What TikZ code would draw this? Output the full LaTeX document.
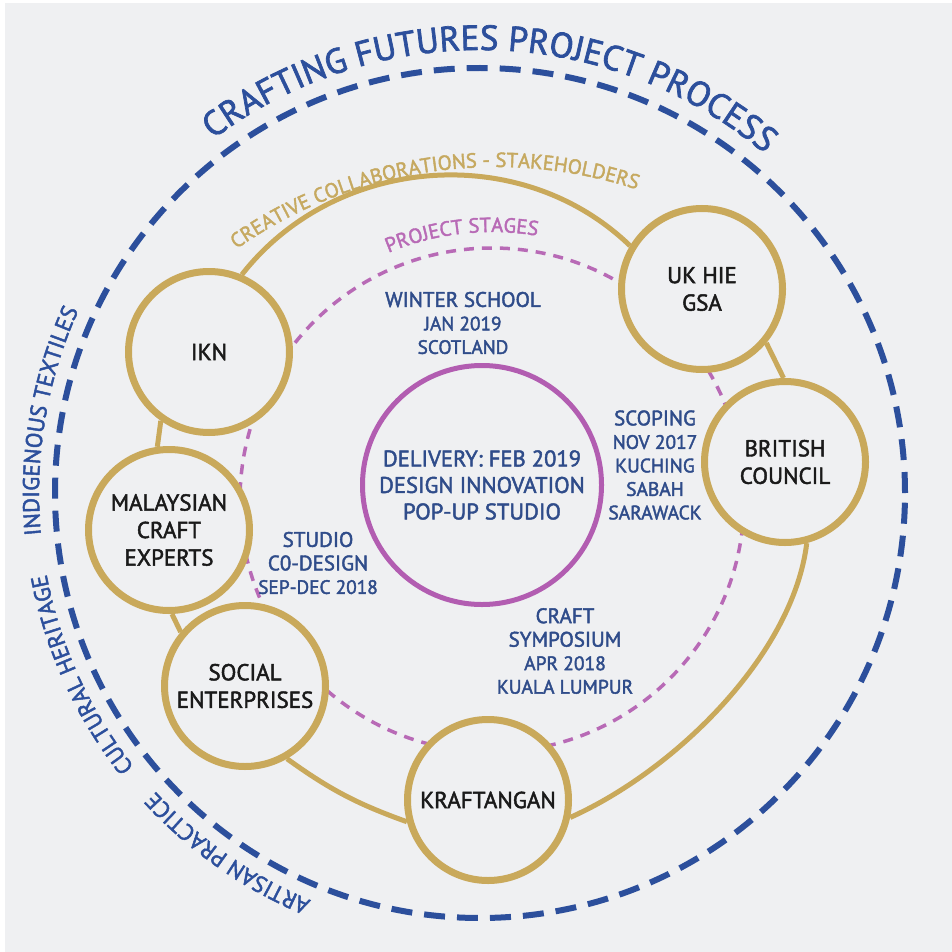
\documentclass[tikz,border=0pt]{standalone}
\usepackage{fontspec}
\setmainfont{PT Sans}[UprightFeatures={FakeBold=2}]
\usetikzlibrary{decorations.text,calc}
\definecolor{bg}{HTML}{EFF0F2}
\definecolor{gold}{HTML}{C9A95B}
\definecolor{navy}{HTML}{2C4F9C}
\definecolor{stagecol}{HTML}{2F4C8A}
\definecolor{purp}{HTML}{B25DB1}
\definecolor{purpd}{HTML}{B86AB6}
\definecolor{ink}{HTML}{1A1A1A}
\definecolor{goldtxt}{HTML}{C6A960}
\newcommand{\fsz}[2]{\fontsize{#1}{#2}\selectfont}
\begin{document}
\begin{tikzpicture}[x=1pt,y=1pt,
  gnode/.style={circle, draw=gold, line width=7pt, fill=bg, minimum size=161pt, inner sep=0pt, align=center, text=ink, font=\fsz{23}{27.5}},
  dnode/.style={circle, draw=purp, line width=5pt, fill=bg, minimum size=239pt, inner sep=0pt, align=center, text=stagecol, font=\fsz{22.6}{26.5}},
  link/.style={draw=gold, line width=5pt},
  stagelbl/.style={align=center, text=stagecol, font=\fsz{21}{23.5}},
  bluering/.style={draw=navy, line width=6pt, dash pattern=on 21pt off 12pt},
  purpring/.style={draw=purpd, line width=3.5pt, dash pattern=on 10pt off 8pt}
]
\fill[white] (0,0) rectangle (952,-952);
\fill[bg] (5,-3) rectangle (952,-952);
\useasboundingbox (0,0) rectangle (952,-952);

\coordinate (C0) at (480,-493);
\coordinate (CP) at (492,-500);
\coordinate (CG) at (496,-618);

% rings
\draw[bluering] (C0) circle[radius=425];
\draw[purpring] (CP) circle[radius=252];

% nodes
\node[gnode] (ikn) at (209,-352) {IKN};
\node[gnode] (uk) at (702,-289) {UK HIE\\GSA};
\node[gnode] (bc) at (785,-462) {BRITISH\\COUNCIL};
\node[gnode] (mal) at (169,-530) {MALAYSIAN\\CRAFT\\EXPERTS};
\node[gnode] (soc) at (245,-686) {SOCIAL\\ENTERPRISES};
\node[gnode] (kra) at (488,-800) {KRAFTANGAN};
\node[dnode] (del) at (482,-485) {DELIVERY: FEB 2019\\DESIGN INNOVATION\\POP-UP STUDIO};

% connectors
\draw[link] (ikn.67) to[out=52,in=136] (uk.149);
\draw[link] (uk.-40) -- (bc.91);
\draw[link] (bc.-75) to[out=-97,in=24,looseness=0.8] (kra.-12);
\draw[link] (kra.195) to[bend left=8] (soc.-60);
\draw[link] (soc.140) -- (mal.-88);
\draw[link] (mal.98) -- (ikn.235);

% stage labels
\node[stagelbl] (winter) at (463,-323) {WINTER SCHOOL\\{\fsz{19.3}{23.5}JAN 2019}\\{\fsz{19.3}{23.5}SCOTLAND}};
\node[stagelbl] (scoping) at (655,-465) {SCOPING\\{\fsz{19.5}{23.5}NOV 2017}\\{\fsz{19.5}{23.5}KUCHING}\\{\fsz{19.5}{23.5}SABAH}\\{\fsz{19.5}{23.5}SARAWACK}};
\node[stagelbl] (studio) at (318,-563) {STUDIO\\C0-DESIGN\\{\fsz{19.3}{25}SEP-DEC 2018}};
\node[stagelbl] (craft) at (565,-651) {CRAFT\\SYMPOSIUM\\{\fsz{19.5}{23.5}APR 2018}\\{\fsz{19.5}{23.5}KUALA LUMPUR}};

% curved texts
\path[decorate, decoration={text along path, text align=center, text color=navy,
  text={|\fsz{35}{35}|CRAFTING FUTURES PROJECT PROCESS}}]
  ($(C0)+(150:443)$) arc[start angle=150, end angle=27, radius=443];
\path[decorate, decoration={text along path, text align=center, text color=navy,
  text={|\fsz{23}{23}|INDIGENOUS TEXTILES}}]
  ($(C0)+(210.5:441)$) arc[start angle=210.5, end angle=130.5, radius=441];
\path[decorate, decoration={text along path, text align=center, text color=navy,
  text={|\fsz{23}{23}|CULTURAL HERITAGE}}]
  ($(C0)+(244.5:441)$) arc[start angle=244.5, end angle=164.5, radius=441];
\path[decorate, decoration={text along path, text align=center, text color=navy,
  text={|\fsz{23}{23}|ARTISAN PRACTICE}}]
  ($(C0)+(275:441)$) arc[start angle=275, end angle=195, radius=441];
\path[decorate, decoration={text along path, text align=center, text color=goldtxt,
  text={|\fsz{20.5}{20}|CREATIVE COLLABORATIONS - STAKEHOLDERS}}]
  ($(CG)+(140:451)$) arc[start angle=140, end angle=57, radius=451];
\path[decorate, decoration={text along path, text align=center, text color=purpd,
  text={|\fsz{20.5}{20}|PROJECT STAGES}}]
  ($(CP)+(126:268)$) arc[start angle=126, end angle=67, radius=268];
\end{tikzpicture}
\end{document}
